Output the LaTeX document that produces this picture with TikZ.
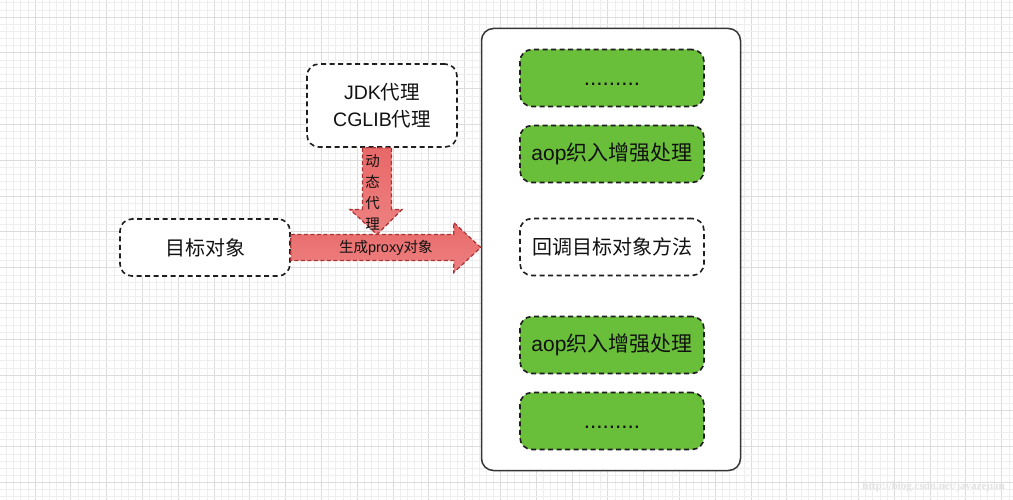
\documentclass[tikz,border=0pt]{standalone}
\usepackage{fontspec}
\setmainfont{Noto Sans CJK SC}
\newfontfamily\lat{Liberation Sans}
\newfontfamily\wmfont{Liberation Serif}
\usetikzlibrary{calc}
\definecolor{gridminor}{HTML}{EEEEEE}
\definecolor{gridmajor}{HTML}{DCDCDC}
\definecolor{boxgreen}{HTML}{69BE3A}
\definecolor{edgedark}{HTML}{1E1E1E}
\definecolor{arrowtop}{HTML}{E86868}
\definecolor{arrowbot}{HTML}{EE8282}
\definecolor{arrowedge}{HTML}{A83434}
\definecolor{txt}{HTML}{111111}
\tikzset{
  dashbox/.style={draw=edgedark, line width=1.6pt, dash pattern=on 5pt off 3.5pt,
    rounded corners=12pt, fill=white, inner sep=0pt, text=txt},
  greenbox/.style={dashbox, fill=boxgreen, minimum width=184pt, minimum height=57pt,
    font=\fontsize{21}{26}\selectfont},
  bigarrow/.style={draw=arrowedge, line width=1.2pt, dash pattern=on 4pt off 2.5pt,
    top color=arrowtop, bottom color=arrowbot},
  arrowtext/.style={text=txt, font=\fontsize{14.5}{21}\selectfont, inner sep=0pt}
}
\begin{document}
\begin{tikzpicture}[x=1pt,y=-1pt]
\useasboundingbox (0,0) rectangle (1013,500);
\fill[white] (0,0) rectangle (1013,500);
% grid
\foreach \i in {0,...,142} {
  \pgfmathsetmacro{\gx}{35+(\i-5)*7.16}
  \pgfmathtruncatemacro{\gm}{mod(\i,5)}
  \ifnum\gm=0
    \draw[gridmajor, line width=0.8pt] (\gx,0) -- (\gx,500);
  \else
    \draw[gridminor, line width=0.5pt] (\gx,0) -- (\gx,500);
  \fi
}
\foreach \j in {0,...,72} {
  \pgfmathsetmacro{\gy}{17+(\j-5)*7.16}
  \pgfmathtruncatemacro{\gm}{mod(\j,5)}
  \ifnum\gm=0
    \draw[gridmajor, line width=0.8pt] (0,\gy) -- (1013,\gy);
  \else
    \draw[gridminor, line width=0.5pt] (0,\gy) -- (1013,\gy);
  \fi
}
% container
\node[draw=edgedark!90, line width=1.5pt, rounded corners=12pt, fill=white,
  minimum width=259pt, minimum height=442pt, inner sep=0pt] (cont) at (611,249.5) {};
% boxes
\node[greenbox] (g1) at (612,78) {{\lat\fontsize{22.5}{26}\selectfont .........}\vphantom{理}};
\node[greenbox] (g2) at (612,154) {{\lat aop}织入增强处理};
\node[dashbox, minimum width=184pt, minimum height=57pt, font=\fontsize{20}{24}\selectfont] (cb) at (612,247) {回调目标对象方法};
\node[greenbox] (g4) at (612,345) {{\lat aop}织入增强处理};
\node[greenbox] (g5) at (612,421) {{\lat\fontsize{22.5}{26}\selectfont .........}\vphantom{理}};
\node[dashbox, minimum width=170pt, minimum height=57pt, font=\fontsize{20}{24}\selectfont] (tgt) at (205,247.5) {目标对象};
\node[dashbox, minimum width=150pt, minimum height=83pt, align=center,
  font=\fontsize{19.5}{27}\selectfont] (jdk) at (382,105.5) {{\lat JDK}代理\\{\lat CGLIB}代理};
% down arrow
\coordinate (dtop) at ($(jdk.south)+(-5,0)$);
\coordinate (dtip) at ($(dtop |- tgt.east)+(0,-13)$);
\draw[bigarrow] ($(dtop)+(-14.5,0)$) -- ($(dtip)+(-14.5,-25)$) -- ($(dtip)+(-27,-25)$)
  -- (dtip) -- ($(dtip)+(25,-25)$) -- ($(dtip)+(14.5,-25)$) -- ($(dtop)+(14.5,0)$) -- cycle;
\node[arrowtext, align=center] (dlabel) at ($(dtop)+(-4.5,45)$) {动\\态\\代\\理};
% right arrow
\coordinate (rtip) at (cont.west |- tgt.east);
\draw[bigarrow] ($(tgt.east)+(0,-13)$) -- ($(rtip)+(-27,-13)$) -- ($(rtip)+(-27,-25)$)
  -- (rtip) -- ($(rtip)+(-27,25)$) -- ($(rtip)+(-27,13)$) -- ($(tgt.east)+(0,13)$) -- cycle;
\node[arrowtext] (rlabel) at ($(tgt.east)!0.5!(rtip)+(0,0)$) {生成{\lat proxy}对象};
% watermark
\node[text=gray!22, font=\wmfont\bfseries\fontsize{11}{13}\selectfont, inner sep=0pt, anchor=east]
  (wm) at (1005,487) {http://blog.csdn.net/javazejian};
\end{tikzpicture}
\end{document}
